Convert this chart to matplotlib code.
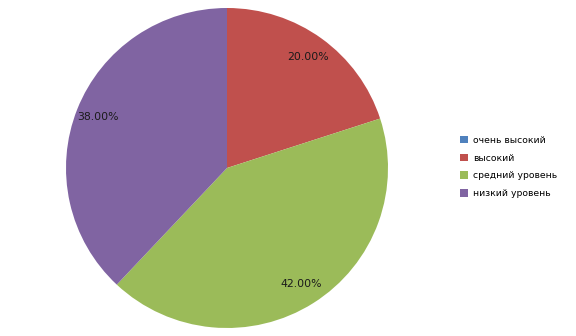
import matplotlib.pyplot as plt
from matplotlib.patches import Patch

labels = ['очень высокий', 'высокий', 'средний уровень', 'низкий уровень']
values = [0, 20, 42, 38]
colors = ['#4F81BD', '#C0504D', '#9BBB59', '#8064A2']

fig = plt.figure(figsize=(5.76, 3.36), dpi=100)
ax = fig.add_axes([(227 - 161) / 576, (336 - 328) / 336, 322 / 576, 320 / 336])

def pct(p):
    return '%.2f%%' % p if p > 0.5 else ''

wedges, texts, autotexts = ax.pie(values, colors=colors, startangle=90, counterclock=False,
                                  autopct=pct, pctdistance=0.86,
                                  textprops={'fontsize': 7.8, 'color': '#1a1a1a'})
ax.set_aspect('auto')
ax.set_xlim(-1, 1)
ax.set_ylim(-1, 1)

handles = [Patch(facecolor=c, edgecolor='none') for c in colors]
fig.legend(handles, labels, loc='center left', bbox_to_anchor=(456 / 576, 1 - 167 / 336),
           frameon=False, fontsize=6.7, handlelength=0.85, handleheight=0.85,
           handletextpad=0.6, labelspacing=0.95, borderaxespad=0)

fig.savefig('out.png', dpi=100)
